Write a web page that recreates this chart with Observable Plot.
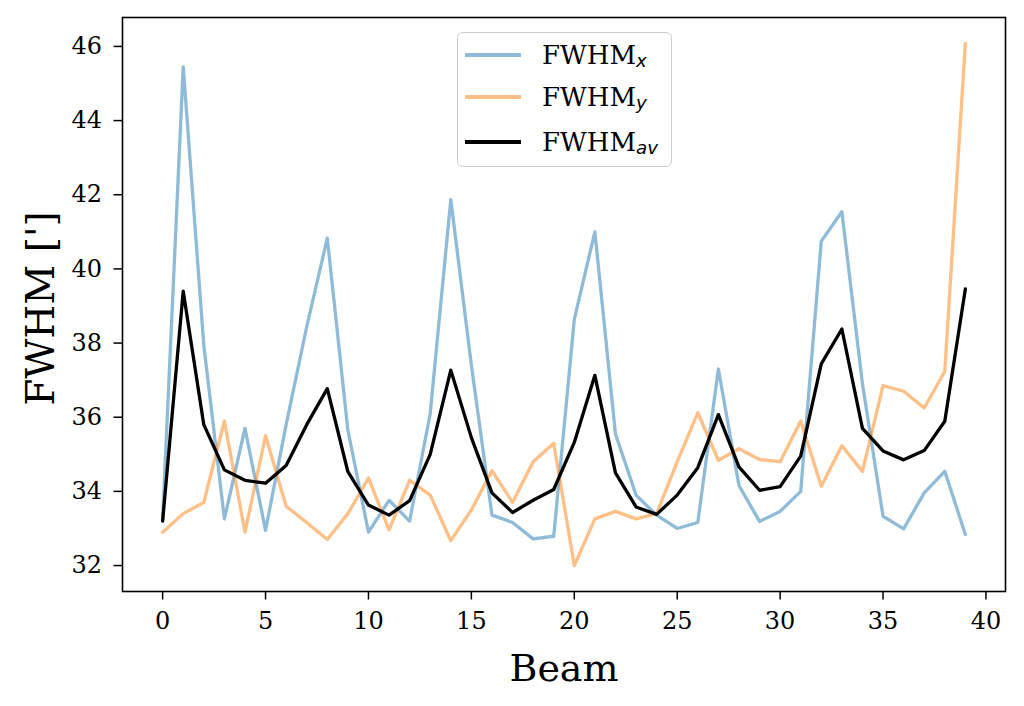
<!DOCTYPE html>
<html><head><meta charset="utf-8">
<script src="https://cdn.jsdelivr.net/npm/d3@7"></script>
<script src="https://cdn.jsdelivr.net/npm/@observablehq/plot@0.6"></script>
<style>
body{margin:0;background:#fff;}
#wrap{position:relative;width:1024px;height:706px;overflow:hidden;}
.legend{position:absolute;left:457px;top:32px;width:215px;height:135px;border:1.6px solid #cccccc;border-radius:6px;background:rgba(255,255,255,0.8);font-family:"DejaVu Serif";font-size:26px;box-sizing:border-box;color:#000;}
.row{position:absolute;left:7px;height:30px;display:flex;align-items:center;}
.sw{display:inline-block;width:56px;height:3.3px;}
.lbl{margin-left:21px;white-space:nowrap;line-height:30px;}
.lbl sub{font-family:"DejaVu Sans";font-style:oblique;font-size:0.7em;vertical-align:-0.18em;line-height:0;}
</style>
</head><body>
<div id="wrap"></div>
<script>
const beam = [0,1,2,3,4,5,6,7,8,9,10,11,12,13,14,15,16,17,18,19,20,21,22,23,24,25,26,27,28,29,30,31,32,33,34,35,36,37,38,39];
const fwhmX = [33.26,45.45,37.94,33.26,35.7,32.95,35.8,38.44,40.83,35.65,32.9,33.76,33.2,36.1,41.87,37.4,33.36,33.16,32.72,32.79,38.64,41.0,35.55,33.9,33.36,33.0,33.16,37.3,34.16,33.19,33.46,34.0,40.75,41.54,36.9,33.33,32.99,33.96,34.54,32.84];
const fwhmY = [32.9,33.4,33.7,35.9,32.9,35.5,33.6,33.16,32.7,33.4,34.36,32.96,34.3,33.9,32.67,33.5,34.56,33.7,34.8,35.3,32.0,33.26,33.46,33.26,33.4,34.8,36.12,34.84,35.15,34.86,34.8,35.9,34.14,35.23,34.54,36.85,36.7,36.25,37.24,46.08];
const fwhmAv = [33.2,39.4,35.8,34.58,34.3,34.22,34.7,35.8,36.77,34.53,33.63,33.36,33.75,35.0,37.27,35.45,33.96,33.43,33.76,34.05,35.32,37.13,34.5,33.58,33.38,33.9,34.64,36.07,34.66,34.03,34.13,34.95,37.44,38.38,35.7,35.09,34.85,35.1,35.89,39.46];
const xTicks = [0,5,10,15,20,25,30,35,40];
const yTicks = [32,34,36,38,40,42,44,46];
const seriesNames = ["x","y","av"];
const seriesColors = ["#1f77b4","#ff7f0e","#000000"];
const seriesOpacity = [0.5,0.5,1];
const xLabel = "Beam";
const yLabel = "FWHM [']";

const data = beam.map((b,i)=>({b, x:fwhmX[i], y:fwhmY[i], av:fwhmAv[i]}));

const chart = Plot.plot({
  width:1024, height:706,
  marginLeft:122, marginRight:19, marginTop:17, marginBottom:115,
  style:{fontFamily:"DejaVu Serif", fontSize:"24px", color:"black", background:"white", overflow:"visible"},
  x:{domain:[-1.95,40.95]},
  y:{domain:[31.3,46.78]},
  marks:[
    Plot.axisX({ticks:xTicks, tickSize:8.5, tickPadding:12, tickFormat:d=>String(d), label:null, strokeWidth:1.5, fontSize:24}),
    Plot.axisY({ticks:yTicks, tickSize:8.5, tickPadding:12, tickFormat:d=>String(d), label:null, strokeWidth:1.5, fontSize:24}),
    Plot.line(data,{x:"b",y:"x",stroke:seriesColors[0],strokeOpacity:seriesOpacity[0],strokeWidth:3.3}),
    Plot.line(data,{x:"b",y:"y",stroke:seriesColors[1],strokeOpacity:seriesOpacity[1],strokeWidth:3.3}),
    Plot.line(data,{x:"b",y:"av",stroke:seriesColors[2],strokeOpacity:seriesOpacity[2],strokeWidth:3.3}),
    Plot.frame({stroke:"black", strokeWidth:1.6}),
    Plot.text([xLabel],{text:d=>d, frameAnchor:"bottom", dy:89, lineAnchor:"bottom", fontSize:38}),
    Plot.text([yLabel],{text:d=>d, frameAnchor:"left", dx:-69, dy:4, rotate:-90, lineAnchor:"bottom", textAnchor:"middle", fontSize:39})
  ]
});
const wrap = document.getElementById("wrap");
wrap.appendChild(chart);

const legend = document.createElement("div");
legend.className = "legend";
const rowTops = [7, 49, 94];
seriesNames.forEach((n,i)=>{
  const row = document.createElement("div");
  row.className = "row";
  row.style.top = rowTops[i] + "px";
  const sw = document.createElement("span");
  sw.className = "sw";
  sw.style.background = seriesColors[i];
  sw.style.opacity = seriesOpacity[i];
  const lbl = document.createElement("span");
  lbl.className = "lbl";
  lbl.innerHTML = "FWHM<sub>" + n + "</sub>";
  row.appendChild(sw); row.appendChild(lbl);
  legend.appendChild(row);
});
wrap.appendChild(legend);
</script>
</body></html>
